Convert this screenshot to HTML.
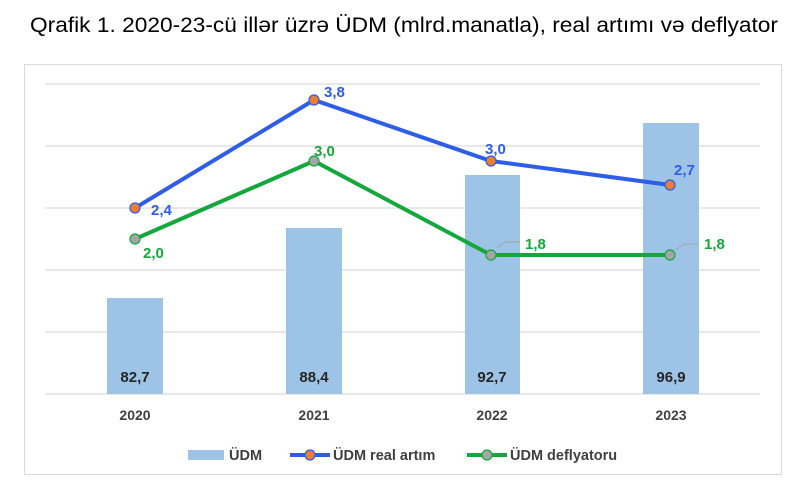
<!DOCTYPE html>
<html><head><meta charset="utf-8"><style>
body{margin:0;background:#fff;width:800px;height:490px;overflow:hidden}
svg{display:block}
</style></head><body>
<svg width="800" height="490" xmlns="http://www.w3.org/2000/svg" font-family="Liberation Sans, sans-serif">
<text x="404" y="32" text-anchor="middle" font-size="21.5" fill="#000" textLength="748" lengthAdjust="spacingAndGlyphs">Qrafik 1. 2020-23-cü illər üzrə ÜDM (mlrd.manatla), real artımı və deflyator</text>
<rect x="24.5" y="64.5" width="757" height="410" fill="#fff" stroke="#d9d9d9"/>
<g stroke="#d9d9d9" stroke-width="1.2">
<line x1="45" y1="84" x2="760" y2="84"/><line x1="45" y1="146" x2="760" y2="146"/>
<line x1="45" y1="208" x2="760" y2="208"/><line x1="45" y1="270" x2="760" y2="270"/>
<line x1="45" y1="332" x2="760" y2="332"/><line x1="45" y1="394" x2="760" y2="394"/>
</g>
<g fill="#9dc3e6">
<rect x="107" y="298" width="56" height="96"/><rect x="286" y="228" width="56" height="166"/>
<rect x="465" y="175" width="55" height="219"/><rect x="643" y="123" width="56" height="271"/>
</g>
<g font-size="15" font-weight="bold" fill="#262626" text-anchor="middle">
<text x="135" y="382">82,7</text><text x="314" y="382">88,4</text><text x="492" y="382">92,7</text><text x="671" y="382">96,9</text>
</g>
<g font-size="14" font-weight="bold" fill="#404040" text-anchor="middle">
<text x="135" y="420">2020</text><text x="314" y="420">2021</text><text x="492" y="420">2022</text><text x="671" y="420">2023</text>
</g>
<polyline points="135,208 314,100 491,161 670,185" fill="none" stroke="#2e5de6" stroke-width="4"/>
<polyline points="135,239 314,161 491,255 670,255" fill="none" stroke="#14a83c" stroke-width="4"/>
<g fill="#ed7d31" stroke="#2e5de6" stroke-width="1.2">
<circle cx="135" cy="208" r="5"/><circle cx="314" cy="100" r="5"/><circle cx="491" cy="161" r="5"/><circle cx="670" cy="185" r="5"/>
</g>
<g fill="#a5a5a5" stroke="#14a83c" stroke-width="1.2">
<circle cx="135" cy="239" r="5"/><circle cx="314" cy="161" r="5"/><circle cx="491" cy="255" r="5"/><circle cx="670" cy="255" r="5"/>
</g>
<path d="M497,248 L505,242 L520,242 M676,250 L684,244 L698,244" fill="none" stroke="#a5a5a5" stroke-width="1"/>
<g font-size="15" font-weight="bold" fill="#2e5de6">
<text x="151" y="215">2,4</text><text x="324" y="97">3,8</text><text x="485" y="154">3,0</text><text x="674" y="175">2,7</text>
</g>
<g font-size="15" font-weight="bold" fill="#14a83c">
<text x="143" y="258">2,0</text><text x="314" y="156">3,0</text><text x="525" y="249">1,8</text><text x="704" y="249">1,8</text>
</g>
<rect x="188" y="450" width="36" height="10" fill="#9dc3e6"/>
<text x="229" y="460" font-size="14.5" font-weight="bold" fill="#404040">ÜDM</text>
<line x1="290" y1="455" x2="330" y2="455" stroke="#2e5de6" stroke-width="4"/>
<circle cx="310" cy="455" r="5" fill="#ed7d31" stroke="#2e5de6" stroke-width="1.2"/>
<text x="333" y="460" font-size="14.5" font-weight="bold" fill="#404040">ÜDM real artım</text>
<line x1="467" y1="455" x2="507" y2="455" stroke="#14a83c" stroke-width="4"/>
<circle cx="487" cy="455" r="5" fill="#a5a5a5" stroke="#14a83c" stroke-width="1.2"/>
<text x="510" y="460" font-size="14.5" font-weight="bold" fill="#404040">ÜDM deflyatoru</text>
</svg>
</body></html>
